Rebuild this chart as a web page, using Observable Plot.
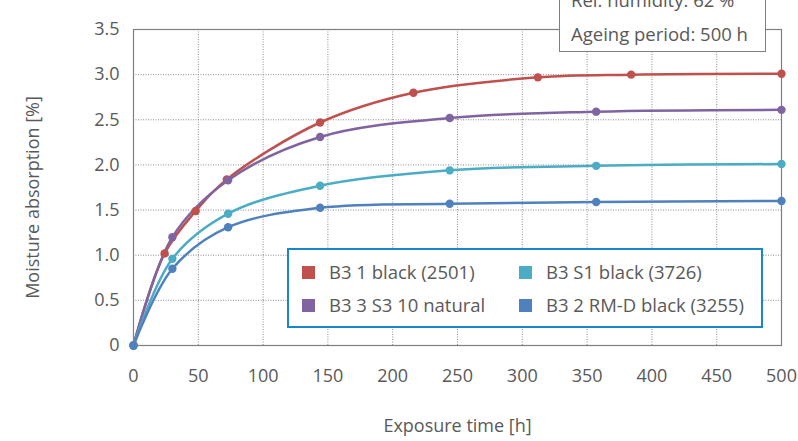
<!DOCTYPE html>
<html><head><meta charset="utf-8">
<script src="https://cdn.jsdelivr.net/npm/d3@7"></script>
<script src="https://cdn.jsdelivr.net/npm/@observablehq/plot@0.6"></script>
<style>
body{margin:0;background:#fff;font-family:"Open Sans",sans-serif;}
#wrap{position:relative;width:798px;height:441px;overflow:hidden;}
#info{position:absolute;left:559px;top:-16px;width:205px;height:66px;background:#fff;border:1.5px solid #7f7f7f;color:#595959;font-size:18.5px;}
#info div{position:absolute;left:11px;white-space:nowrap;line-height:24px;}
#legend{position:absolute;left:287px;top:248px;width:472px;height:76px;background:#fff;border:2px solid #1a86c8;color:#595959;font-size:18.5px;}
.item{position:absolute;white-space:nowrap;line-height:24px;}
.sw{display:inline-block;width:13px;height:13px;margin-right:14px;vertical-align:0px;}
</style></head>
<body><div id="wrap"></div>
<script>
const seriesNames = ["B3 1 black (2501)", "B3 3 S3 10 natural", "B3 S1 black (3726)", "B3 2 RM-D black (3255)"];
const seriesColors = ["#c0504d", "#8064a2", "#4bacc6", "#4f81bd"];
const hoursB1 = [0, 24, 48, 72, 144, 216, 312, 384, 500];
const valuesB1 = [0, 1.02, 1.49, 1.84, 2.47, 2.80, 2.97, 3.00, 3.01];
const hoursOther = [0, 30, 73, 144, 244, 357, 500];
const valuesB3S3 = [0, 1.20, 1.83, 2.31, 2.52, 2.59, 2.61];
const valuesS1 = [0, 0.96, 1.46, 1.77, 1.94, 1.99, 2.01];
const valuesRMD = [0, 0.85, 1.31, 1.525, 1.57, 1.59, 1.60];
const xTicks = [0, 50, 100, 150, 200, 250, 300, 350, 400, 450, 500];
const yTicks = [0, 0.5, 1, 1.5, 2, 2.5, 3, 3.5];
const xTitle = "Exposure time [h]";
const yTitle = "Moisture absorption [%]";
const infoLines = ["Rel. humidity: 62 %", "Ageing period: 500 h"];

const rows = [];
hoursB1.forEach((h, i) => rows.push({s: seriesNames[0], x: h, y: valuesB1[i]}));
[valuesB3S3, valuesS1, valuesRMD].forEach((vals, k) =>
  hoursOther.forEach((h, i) => rows.push({s: seriesNames[k + 1], x: h, y: vals[i]})));

const plot = Plot.plot({
  width: 798, height: 441,
  marginLeft: 133, marginRight: 17, marginTop: 29, marginBottom: 96,
  style: {fontFamily: '"Open Sans", sans-serif', fontSize: "18px", color: "#595959", background: "#fff"},
  x: {domain: [0, 500], ticks: xTicks, tickSize: 0, tickPadding: 24, label: xTitle, labelArrow: "none", labelAnchor: "center", labelOffset: 86},
  y: {domain: [0, 3.5], ticks: yTicks, tickSize: 0, tickPadding: 14, tickFormat: d => d === 0 ? "0" : d.toFixed(1), label: null},
  color: {domain: seriesNames, range: seriesColors},
  marks: [
    Plot.gridX(xTicks.slice(1, -1), {stroke: "#8c8c8c", strokeOpacity: 1, strokeDasharray: "1,1.5"}),
    Plot.gridY(yTicks.slice(1, -1), {stroke: "#8c8c8c", strokeOpacity: 1, strokeDasharray: "1,1.5"}),
    Plot.frame({stroke: "#7f7f7f", strokeWidth: 1.2}),
    Plot.text([yTitle], {text: d => d, frameAnchor: "left", textAnchor: "middle", rotate: -90, dx: -100, dy: 10, fontSize: 18, fill: "#595959"}),
    Plot.line(rows, {x: "x", y: "y", z: "s", stroke: "s", strokeWidth: 2.5, curve: "catmull-rom"}),
    Plot.dot(rows, {x: "x", y: "y", fill: "s", r: 4.2})
  ]
});
const wrap = document.getElementById("wrap");
wrap.appendChild(plot);

const info = document.createElement("div");
info.id = "info";
infoLines.forEach((t, i) => {
  const d = document.createElement("div");
  d.textContent = t;
  d.style.top = (3 + i * 34) + "px";
  info.appendChild(d);
});
wrap.appendChild(info);

const leg = document.createElement("div");
leg.id = "legend";
const pos = [[13, 10], [13, 43], [230, 10], [230, 43]];
[0, 1, 2, 3].forEach((k, i) => {
  const it = document.createElement("div");
  it.className = "item";
  it.style.left = pos[i][0] + "px";
  it.style.top = pos[i][1] + "px";
  const sw = document.createElement("span");
  sw.className = "sw";
  sw.style.background = seriesColors[k];
  it.appendChild(sw);
  it.appendChild(document.createTextNode(seriesNames[k]));
  leg.appendChild(it);
});
wrap.appendChild(leg);
</script></body></html>
